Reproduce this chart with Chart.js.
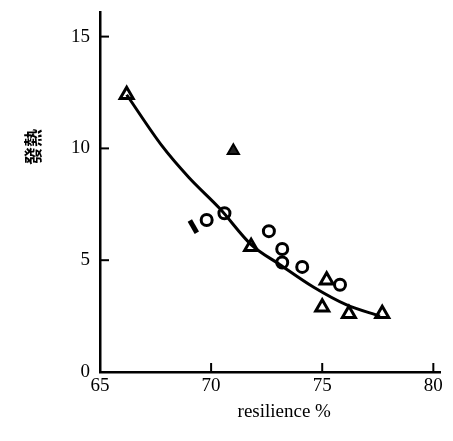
<!DOCTYPE html>
<html>
<head>
<meta charset="utf-8">
<script src="https://cdn.jsdelivr.net/npm/chart.js@4"></script>
<style>
  html, body { margin: 0; padding: 0; background: #fff; }
  #wrap { width: 453px; height: 441px; }
</style>
</head>
<body>
<div id="wrap"><canvas id="heatChart"></canvas></div>
<script>
// values
const yTicks = [0, 5, 10, 15];
const xTicks = [65, 70, 75, 80];

const triangleX = [66.2, 71.8, 75.2, 75.0, 76.2, 77.7];
const triangleY = [12.4, 5.6, 4.1, 2.9, 2.6, 2.6];

const filledTriangleX = [71.0];
const filledTriangleY = [9.9];

const circleX = [69.8, 70.6, 72.6, 73.2, 73.2, 74.1, 75.8];
const circleY = [6.8, 7.1, 6.3, 5.5, 4.9, 4.7, 3.9];

const blobX = [69.2];
const blobY = [6.5];

const curveX = [66.2, 67.8, 69.0, 70.4, 71.8, 73.1, 74.6, 76.1, 77.6];
const curveY = [12.4, 10.1, 8.7, 7.3, 5.7, 4.8, 3.8, 3.0, 2.5];

function toPoints(xs, ys) {
    return xs.map(function (x, i) {
        return { x: x, y: ys[i] };
    });
}

const serif = "'Liberation Serif', 'DejaVu Serif', serif";

// short tick marks drawn inward from the axes
const inwardTicks = {
    id: "inwardTicks",
    afterDraw: function (chart) {
        const ctx = chart.ctx;
        const xs = chart.scales.x;
        const ys = chart.scales.y;
        ctx.save();
        ctx.strokeStyle = "#000";
        ctx.lineWidth = 2;
        yTicks.forEach(function (v) {
            if (v === 0) return;
            const py = ys.getPixelForValue(v);
            ctx.beginPath();
            ctx.moveTo(xs.left, py);
            ctx.lineTo(xs.left + 9, py);
            ctx.stroke();
        });
        xTicks.forEach(function (v) {
            if (v === 65) return;
            const px = xs.getPixelForValue(v);
            ctx.beginPath();
            ctx.moveTo(px, ys.bottom);
            ctx.lineTo(px, ys.bottom - 9);
            ctx.stroke();
        });
        ctx.restore();
    },
};

new Chart(document.getElementById("heatChart"), {
    type: "scatter",
    data: {
        datasets: [
            {
                type: "line",
                label: "fit",
                data: toPoints(curveX, curveY),
                borderColor: "#000",
                borderWidth: 3,
                pointRadius: 0,
                cubicInterpolationMode: "monotone",
                fill: false,
            },
            {
                label: "triangles",
                data: toPoints(triangleX, triangleY),
                pointStyle: "triangle",
                pointRadius: 7.5,
                borderColor: "#000",
                borderWidth: 3,
                backgroundColor: "#fff",
            },
            {
                label: "filled triangle",
                data: toPoints(filledTriangleX, filledTriangleY),
                pointStyle: "triangle",
                pointRadius: 6.5,
                borderColor: "#000",
                borderWidth: 2,
                backgroundColor: "#222",
            },
            {
                label: "circles",
                data: toPoints(circleX, circleY),
                pointStyle: "circle",
                pointRadius: 5.5,
                borderColor: "#000",
                borderWidth: 3,
                backgroundColor: "#fff",
            },
            {
                label: "blob",
                data: toPoints(blobX, blobY),
                pointStyle: "line",
                pointRadius: 7,
                rotation: 60,
                borderColor: "#000",
                borderWidth: 5,
            },
        ],
    },
    options: {
        responsive: true,
        maintainAspectRatio: false,
        animation: false,
        layout: {
            padding: { left: 0, right: 13, top: 12, bottom: 0 },
        },
        plugins: {
            legend: { display: false },
            tooltip: { enabled: false },
        },
        scales: {
            x: {
                type: "linear",
                min: 65,
                max: 80.3,
                afterFit: function (scale) {
                    scale.height = 69;
                    scale.paddingRight = 0;
                    scale.paddingLeft = 0;
                },
                afterBuildTicks: function (scale) {
                    scale.ticks = xTicks.map(function (v) {
                        return { value: v };
                    });
                },
                grid: { display: false, drawTicks: false },
                border: { display: true, color: "#000", width: 2.5 },
                ticks: {
                    color: "#000",
                    padding: 3,
                    font: { family: serif, size: 19 },
                },
                title: {
                    display: true,
                    text: "      resilience %",
                    color: "#000",
                    font: { family: serif, size: 19 },
                    padding: { top: 0, bottom: 18 },
                },
            },
            y: {
                type: "linear",
                min: 0,
                max: 16.1,
                afterFit: function (scale) {
                    scale.width = 100;
                    scale.paddingTop = 0;
                    scale.paddingBottom = 0;
                },
                afterBuildTicks: function (scale) {
                    scale.ticks = yTicks.map(function (v) {
                        return { value: v };
                    });
                },
                grid: { display: false, drawTicks: false },
                border: { display: true, color: "#000", width: 2.5 },
                ticks: {
                    color: "#000",
                    padding: 10,
                    font: { family: serif, size: 19 },
                },
                title: {
                    display: true,
                    text: "\u3000\u3000\u3000\u3000\u3000發熱",
                    color: "#000",
                    font: { family: "'Noto Sans CJK TC', sans-serif", size: 18, weight: "bold" },
                    padding: { top: 22, bottom: 0 },
                },
            },
        },
    },
    plugins: [inwardTicks],
});
</script>
</body>
</html>
